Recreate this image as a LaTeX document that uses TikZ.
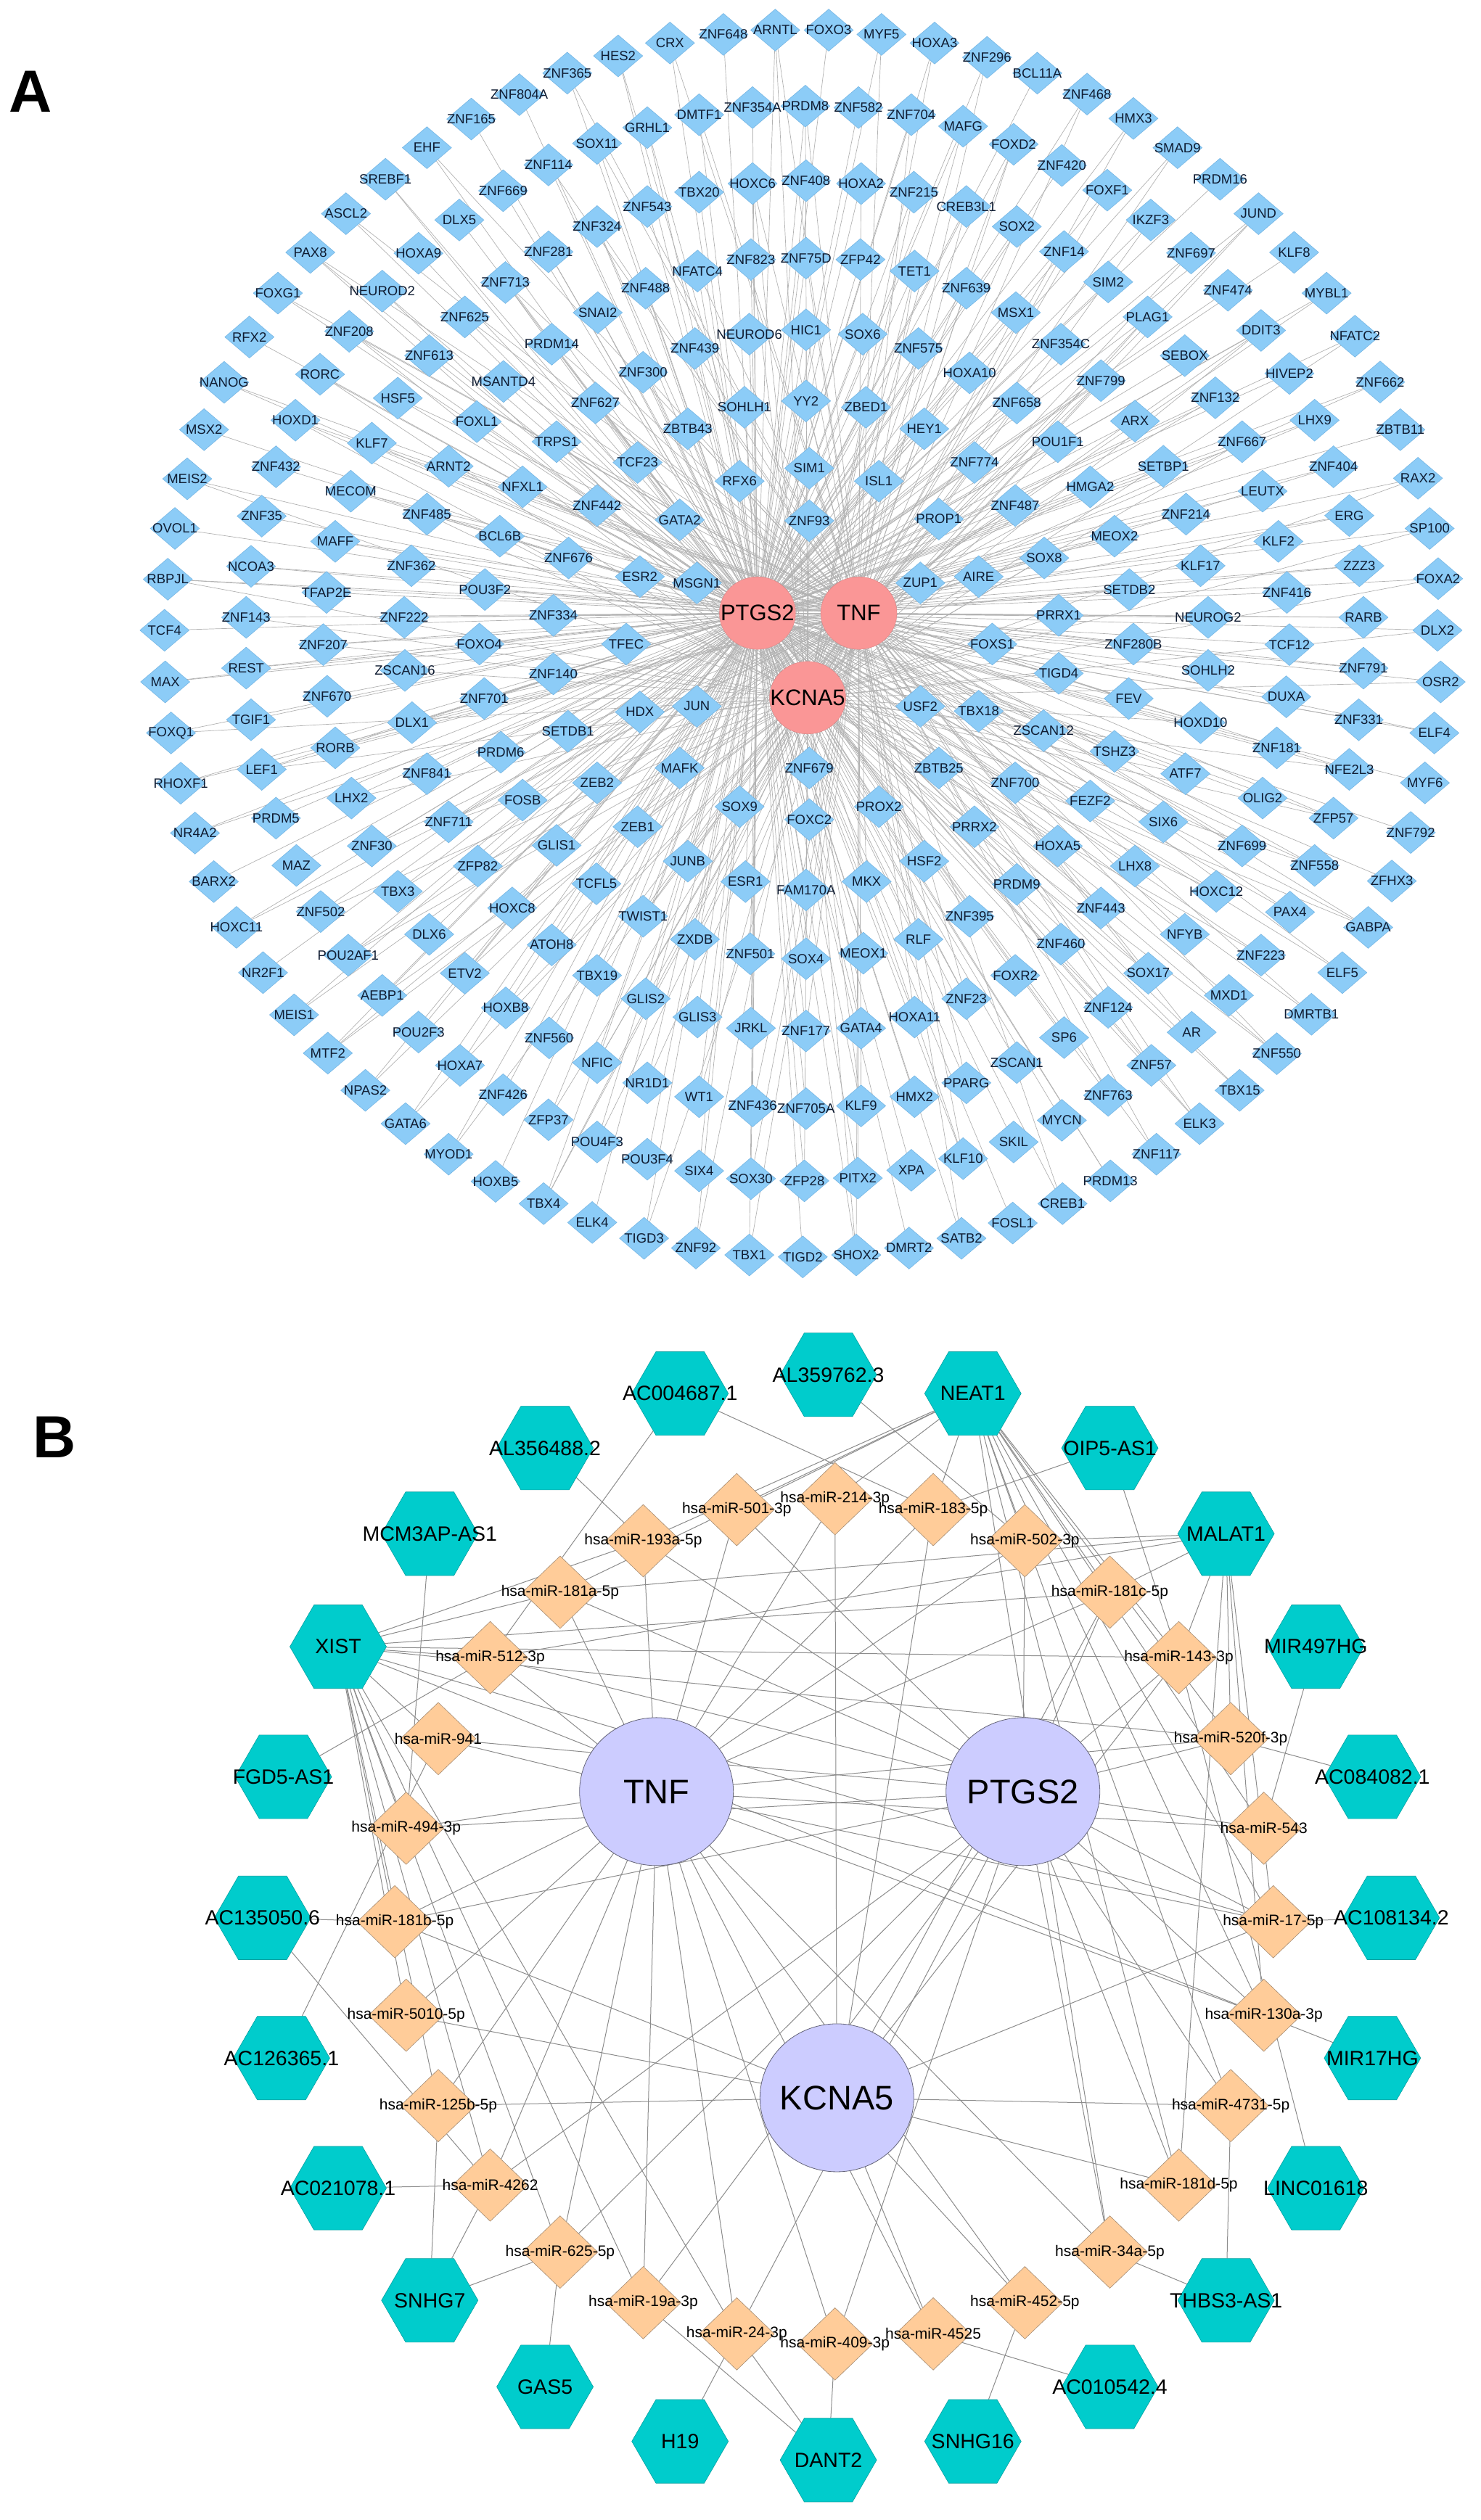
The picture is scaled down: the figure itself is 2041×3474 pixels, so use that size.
\documentclass[tikz,border=0pt]{standalone}
\usepackage{fontspec}
\setmainfont{Liberation Sans}
\usetikzlibrary{shapes.geometric}
\pgfdeclarelayer{bg}
\pgfdeclarelayer{edges}
\pgfsetlayers{bg,edges,main}
\definecolor{diaFill}{RGB}{140,204,247}
\definecolor{diaLine}{RGB}{118,182,228}
\definecolor{labCol}{RGB}{15,28,50}
\definecolor{hubAFill}{RGB}{250,150,150}
\definecolor{edgeACol}{RGB}{178,178,178}
\definecolor{hexFill}{RGB}{0,204,204}
\definecolor{hexLine}{RGB}{0,160,160}
\definecolor{miFill}{RGB}{255,204,153}
\definecolor{miLine}{RGB}{165,140,115}
\definecolor{hubBFill}{RGB}{204,204,255}
\definecolor{hubBLine}{RGB}{100,100,120}
\definecolor{edgeBCol}{RGB}{140,140,140}
\tikzset{
  diaA/.style={diamond, draw=diaLine, line width=0.6pt, fill=diaFill, minimum width=68pt, minimum height=58pt, inner sep=0pt},
  labA/.style={font=\fontsize{18.5}{20}\selectfont, text=labCol, inner sep=0pt},
  hubA/.style={ellipse, fill=hubAFill, draw=hubAFill!85!black, line width=0.4pt, minimum width=105pt, minimum height=100pt, inner sep=0pt},
  labHubA/.style={font=\fontsize{31}{33}\selectfont, text=black, inner sep=0pt},
  edgeA/.style={draw=edgeACol, line width=0.7pt},
  hexB/.style={regular polygon, regular polygon sides=6, minimum size=133pt, inner sep=0pt, fill=hexFill, draw=hexLine, line width=0.6pt},
  labHex/.style={font=\fontsize{28.5}{30}\selectfont, text=black, inner sep=0pt},
  miB/.style={diamond, minimum width=104pt, minimum height=100pt, inner sep=0pt, fill=miFill, draw=miLine, line width=0.6pt},
  labMi/.style={font=\fontsize{21}{22}\selectfont, text=black, inner sep=0pt},
  hubB/.style={ellipse, minimum width=212pt, minimum height=204pt, inner sep=0pt, fill=hubBFill, draw=hubBLine, line width=0.8pt},
  labHubB/.style={font=\fontsize{47}{49}\selectfont, text=black, inner sep=0pt},
  edgeB/.style={draw=edgeBCol, line width=1pt},
  panlab/.style={font=\fontsize{82}{82}\selectfont\bfseries, inner sep=0pt}
}
\newcommand{\tfListA}{ZNF165/1455/415, EHF/1318/515, SREBF1/1190/625, ASCL2/1068/745, DLX5/1418/767, PAX8/958/880, HOXA9/1292/883, FOXG1/858/1022, NEUROD2/1180/1015, ZNF625/1435/1105, RFX2/770/1175, ZNF208/1078/1155, ZNF613/1325/1240, NANOG/692/1333, RORC/988/1305, HSF5/1228/1388, MSX2/630/1498, HOXD1/912/1465, FOXL1/1472/1470, KLF7/1148/1545}
\newcommand{\tfListB}{ZNF804A/80/330, ZNF365/228/255, HES2/385/195, CRX/545/150, ZNF648/710/120, ARNTL/870/105, FOXO3/1035/105, MYF5/1198/120, HOXA3/1362/150, ZNF296/1524/200, ZNF669/30/665, ZNF713/37/985, MSANTD4/31/1330, SOX11/320/500, GRHL1/475/445, DMTF1/635/400, ZNF354A/800/375, PRDM8/963/370, ZNF582/1127/375, ZNF704/1290/400, MAFG/1450/440, ZNF114/170/575, TBX20/635/670, HOXC6/800/640, ZNF408/965/630, HOXA2/1135/640, ZNF215/1298/670, CREB3L1/1460/720, ZNF543/475/720, ZNF324/320/790, ZNF281/170/878, NFATC4/630/945, ZNF823/795/905, ZNF75D/965/900, ZFP42/1133/905, TET1/1300/945, ZNF488/470/1005, ZNF639/1460/1005, SNAI2/322/1090, PRDM14/180/1200, NEUROD6/790/1165, HIC1/965/1150, SOX6/1140/1165, ZNF439/622/1215, ZNF575/1312/1215, ZNF300/462/1298, HOXA10/1470/1300, ZNF627/315/1405, SOHLH1/775/1420, YY2/965/1398, ZBED1/1150/1420, ZBTB43/600/1495, HEY1/1330/1495, TRPS1/195/1540}
\newcommand{\tfListC}{BCL11A/160/255, ZNF468/318/328, HMX3/465/413, SMAD9/605/515, PRDM16/740/625, JUND/862/745, KLF8/975/880, MYBL1/1078/1022, NFATC2/1168/1172, ZNF662/1248/1332, ZBTB11/1312/1498, FOXD2/85/503, ZNF420/238/577, FOXF1/382/663, IKZF3/520/767, ZNF697/648/882, ZNF474/765/1012, DDIT3/870/1152, HIVEP2/960/1302, LHX9/1040/1465, SOX2/95/790, ZNF14/245/877, SIM2/385/983, PLAG1/510/1105, SEBOX/628/1240, ZNF132/725/1387, ZNF667/810/1540, MSX1/92/1090, ZNF354C/235/1200, ZNF799/362/1327, ARX/470/1468, ZNF658/95/1405, POU1F1/225/1540}
\newcommand{\tfListD}{ZNF432/852/110, ARNT2/1385/108, MEIS2/578/152, MECOM/1083/195, ZNF35/808/282, ZNF485/1318/275, OVOL1/540/325, MAFF/1035/370, BCL6B/1543/352, NCOA3/775/457, ZNF362/1270/455, RBPJL/518/502, TFAP2E/1008/548, POU3F2/1497/538, ZNF143/760/635, ZNF222/1248/635, TCF4/508/680, ZNF207/998/730, FOXO4/1480/728, REST/760/812, ZSCAN16/1250/820, MAX/510/860, ZNF670/1010/910, ZNF701/1495/918, TGIF1/775/992, DLX1/1272/1002, FOXQ1/528/1038, RORB/1035/1090, PRDM6/1546/1105, LEF1/808/1165, ZNF841/1318/1180, RHOXF1/558/1213, LHX2/1085/1265, NR4A2/602/1387, PRDM5/852/1335, ZNF711/1385/1348, MAZ/915/1500, ZNF30/1148/1432, ZFP82/1475/1502}
\newcommand{\tfListE}{TCF23/445/95, SIM1/975/115, ZNF774/1485/95, NFXL1/90/180, RFX6/760/160, ISL1/1190/160, ZNF442/320/245, GATA2/575/295, ZNF93/975/298, PROP1/1375/292, ZNF676/232/428, ESR2/452/493, MSGN1/628/515, ZUP1/1318/515, AIRE/1498/493, ZNF334/185/628, TFEC/410/728, FOXS1/1540/728, ZNF140/185/832, HDX/452/965, JUN/628/945, USF2/1318/945, TBX18/1498/962, SETDB1/230/1032, MAFK/575/1160, ZNF679/975/1160, ZBTB25/1375/1160, ZEB2/320/1212, FOSB/90/1272, SOX9/760/1295, PROX2/1190/1295, FOXC2/975/1340, ZEB1/445/1365, PRRX2/1485/1365, GLIS1/195/1430, JUNB/600/1485, HSF2/1330/1485}
\newcommand{\tfListF}{SETBP1/560/108, ZNF404/1100/110, RAX2/1368/150, HMGA2/328/180, LEUTX/875/195, ZNF487/90/245, ZNF214/632/275, ERG/1150/280, SP100/1405/325, MEOX2/405/352, KLF2/925/370, SOX8/182/428, KLF17/678/455, ZZZ3/1182/455, FOXA2/1432/500, SETDB2/452/538, ZNF416/952/548, PRRX1/228/628, NEUROG2/702/635, RARB/1195/635, DLX2/1430/680, ZNF280B/465/728, TCF12/960/730, TIGD4/228/830, SOHLH2/702/820, ZNF791/1195/812, OSR2/1440/860, FEV/450/918, DUXA/950/912, HOXD10/678/1002, ZNF331/1180/992, ELF4/1420/1038, ZSCAN12/180/1030, TSHZ3/405/1102, ZNF181/920/1090, NFE2L3/1150/1165, MYF6/1390/1212, ZNF700/90/1212, ATF7/630/1180, FEZF2/328/1275, OLIG2/875/1265, ZFP57/1100/1335, ZNF792/1345/1385, SIX6/560/1348, HOXA5/225/1432, ZNF699/810/1432, LHX8/470/1502, ZNF558/1040/1500}
\newcommand{\tfListG}{BARX2/660/40, TBX3/1228/75, ZNF502/990/148, HOXC11/730/205, DLX6/1325/230, POU2AF1/1075/305, NR2F1/812/368, ETV2/1435/370, AEBP1/1180/450, MEIS1/908/520, POU2F3/1292/582, MTF2/1012/658, HOXA7/1420/702, NPAS2/1128/792, GATA6/1252/912, MYOD1/1385/1022, HOXB5/1530/1120}
\newcommand{\tfListH}{TCFL5/318/48, ESR1/778/40, FAM170A/965/70, MKX/1152/40, HOXC8/58/135, TWIST1/462/165, ZNF395/1470/165, ATOH8/180/268, ZXDB/622/248, RLF/1312/248, ZNF501/793/300, SOX4/965/318, MEOX1/1142/298, TBX19/320/378, HOXB8/38/495, GLIS2/470/462, GLIS3/630/528, ZNF23/1460/462, JRKL/795/568, ZNF177/965/578, GATA4/1135/568, HOXA11/1300/528, ZNF560/172/603, NFIC/320/692, ZNF426/30/808, NR1D1/475/765, WT1/635/815, ZNF436/800/848, ZNF705A/965/858, KLF9/1135/848, HMX2/1300/815, PPARG/1460/765, ZFP37/170/898, POU4F3/320/978, POU3F4/475/1040, KLF10/1450/1038, SIX4/635/1082, SOX30/795/1110, ZFP28/960/1118, PITX2/1125/1108, XPA/1290/1080, TBX4/155/1200, ELK4/305/1268, TIGD3/465/1325, ZNF92/625/1360, TBX1/790/1385, TIGD2/955/1392, SHOX2/1120/1385, DMRT2/1283/1360, SATB2/1445/1325}
\newcommand{\tfListI}{PRDM9/95/50, ZNF443/362/135, HOXC12/728/75, PAX4/962/150, ZFHX3/1285/38, GABPA/1210/205, ZNF460/235/265, NFYB/628/230, ZNF223/870/305, ELF5/1128/368, FOXR2/90/378, SOX17/512/370, MXD1/768/450, DMRTB1/1030/518, ZNF124/385/493, AR/650/583, SP6/245/602, ZNF550/920/660, ZSCAN1/95/692, ZNF57/522/702, TBX15/802/792, ZNF763/385/810, MYCN/238/900, ELK3/675/912, SKIL/85/978, ZNF117/538/1022, PRDM13/392/1118, CREB1/240/1200, FOSL1/82/1270}
\newcommand{\tfPlace}[1]{%
  \foreach \n/\a/\b in #1 {\node[diaA, label={[labA]center:\n}] (\n) at (\a,\b) {};}%
}
\newcommand{\tfLink}[1]{%
  \foreach \n/\a/\b [count=\i] in #1 {%
    \draw[edgeA] (\n) -- (PTGS2);
    \pgfmathtruncatemacro{\tfmodA}{mod(\i,2)}%
    \ifnum\tfmodA=0 \draw[edgeA] (\n) -- (TNF);\fi
    \pgfmathtruncatemacro{\tfmodB}{mod(\i,3)}%
    \ifnum\tfmodB=0 \draw[edgeA] (\n) -- (KCNA5);\fi
  }%
}
\begin{document}
\begin{tikzpicture}[x=1pt, y=-1pt]
\useasboundingbox (0,0) rectangle (2041,3474);
\begin{pgfonlayer}{bg}
\fill[white] (0,0) rectangle (2041,3474);
\end{pgfonlayer}

% ---------------- Panel A ----------------
\node[panlab] (labelA) at (42,126) {A};

\begin{scope}[shift={(680pt,-600pt)}, x=0.4464pt, y=-0.3954pt]
\node[hubA, label={[labHubA]center:PTGS2}] (PTGS2) at (815,620) {};
\node[hubA, label={[labHubA]center:TNF}] (TNF) at (1128,620) {};
\node[hubA, label={[labHubA]center:KCNA5}] (KCNA5) at (970,915) {};
\end{scope}

\begin{scope}[shift={(0pt,0pt)}, x=0.4464pt, y=-0.3954pt]\tfPlace{\tfListA}\end{scope}
\begin{scope}[shift={(680pt,0pt)}, x=0.4464pt, y=-0.3954pt]\tfPlace{\tfListB}\end{scope}
\begin{scope}[shift={(1360pt,0pt)}, x=0.4343pt, y=-0.3954pt]\tfPlace{\tfListC}\end{scope}
\begin{scope}[shift={(0pt,-600pt)}, x=0.4464pt, y=-0.3954pt]\tfPlace{\tfListD}\end{scope}
\begin{scope}[shift={(680pt,-600pt)}, x=0.4464pt, y=-0.3954pt]\tfPlace{\tfListE}\end{scope}
\begin{scope}[shift={(1360pt,-600pt)}, x=0.4343pt, y=-0.3954pt]\tfPlace{\tfListF}\end{scope}
\begin{scope}[shift={(0pt,-1200pt)}, x=0.4464pt, y=-0.3827pt]\tfPlace{\tfListG}\end{scope}
\begin{scope}[shift={(680pt,-1200pt)}, x=0.4464pt, y=-0.3827pt]\tfPlace{\tfListH}\end{scope}
\begin{scope}[shift={(1360pt,-1200pt)}, x=0.4343pt, y=-0.3827pt]\tfPlace{\tfListI}\end{scope}

% ---------------- Panel B ----------------
\node[panlab] (labelB) at (75,1981) {B};

\begin{scope}[shift={(0pt,-1790pt)}, x=1.3017pt, y=-1.074pt]
\node[hubB, label={[labHubB]center:TNF}] (bTNF) at (695,633) {};
\node[hubB, label={[labHubB]center:PTGS2}] (bPTGS2) at (1083,633) {};
\node[hubB, label={[labHubB]center:KCNA5}] (bKCNA5) at (886,1026) {};

\foreach \n/\a/\b/\t in {AC0046871/720/122/AC004687.1, AL3597623/877/98/AL359762.3, NEAT1/1030/122/NEAT1, AL3564882/577/192/AL356488.2, OIP5AS1/1175/192/OIP5-AS1, MCM3APAS1/455/302/MCM3AP-AS1, MALAT1/1298/302/MALAT1, XIST/358/447/XIST, MIR497HG/1393/447/MIR497HG, FGD5AS1/300/614/FGD5-AS1, AC0840821/1453/614/AC084082.1, AC1350506/278/795/AC135050.6, AC1081342/1473/795/AC108134.2, AC1263651/298/975/AC126365.1, MIR17HG/1453/975/MIR17HG, AC0210781/358/1142/AC021078.1, LINC01618/1393/1142/LINC01618, SNHG7/455/1286/SNHG7, THBS3AS1/1298/1286/THBS3-AS1, GAS5/577/1397/GAS5, AC0105424/1175/1397/AC010542.4, H19/720/1467/H19, SNHG16/1030/1467/SNHG16, DANT2/877/1491/DANT2}
  \node[hexB, label={[labHex]center:\t}] (\n) at (\a,\b) {};

\foreach \n/\a/\b/\t in {m214/884/257/hsa-miR-214-3p, m501/780/271/hsa-miR-501-3p, m183/988/271/hsa-miR-183-5p, m193a/681/311/hsa-miR-193a-5p, m502/1085/311/hsa-miR-502-3p, m181a/593/377/hsa-miR-181a-5p, m181c/1175/377/hsa-miR-181c-5p, m512/519/461/hsa-miR-512-3p, m143/1248/461/hsa-miR-143-3p, m941/464/565/hsa-miR-941, m520f/1303/565/hsa-miR-520f-3p, m494/430/680/hsa-miR-494-3p, m543/1338/680/hsa-miR-543, m181b/418/800/hsa-miR-181b-5p, m17/1348/800/hsa-miR-17-5p, m5010/430/920/hsa-miR-5010-5p, m130a/1338/920/hsa-miR-130a-3p, m125b/464/1036/hsa-miR-125b-5p, m4731/1303/1036/hsa-miR-4731-5p, m4262/519/1138/hsa-miR-4262, m181d/1248/1138/hsa-miR-181d-5p, m625/593/1224/hsa-miR-625-5p, m34a/1175/1224/hsa-miR-34a-5p, m19a/681/1289/hsa-miR-19a-3p, m452/1085/1289/hsa-miR-452-5p, m24/780/1329/hsa-miR-24-3p, m4525/988/1329/hsa-miR-4525, m409/884/1342/hsa-miR-409-3p}
  \node[miB, label={[labMi]center:\t}] (\n) at (\a,\b) {};
\end{scope}

\begin{pgfonlayer}{edges}
\tfLink{\tfListA}\tfLink{\tfListB}\tfLink{\tfListC}
\tfLink{\tfListD}\tfLink{\tfListE}\tfLink{\tfListF}
\tfLink{\tfListG}\tfLink{\tfListH}\tfLink{\tfListI}
\foreach \u/\v in {m214/bTNF, m214/bKCNA5, m501/bTNF, m501/bPTGS2, m183/bTNF, m183/bKCNA5, m193a/bTNF, m193a/bPTGS2, m502/bTNF, m502/bPTGS2, m181a/bTNF, m181a/bPTGS2, m181c/bTNF, m181c/bPTGS2, m181c/bKCNA5, m512/bTNF, m512/bPTGS2, m143/bPTGS2, m143/bKCNA5, m941/bTNF, m941/bPTGS2, m520f/bTNF, m520f/bPTGS2, m494/bTNF, m494/bPTGS2, m543/bTNF, m543/bPTGS2, m181b/bTNF, m181b/bPTGS2, m181b/bKCNA5, m17/bTNF, m17/bPTGS2, m17/bKCNA5, m5010/bTNF, m5010/bKCNA5, m130a/bTNF, m130a/bPTGS2, m125b/bTNF, m125b/bKCNA5, m4731/bKCNA5, m4731/bPTGS2, m4262/bTNF, m4262/bPTGS2, m181d/bPTGS2, m181d/bKCNA5, m625/bTNF, m625/bPTGS2, m34a/bTNF, m34a/bPTGS2, m19a/bTNF, m19a/bPTGS2, m452/bTNF, m452/bKCNA5, m24/bTNF, m24/bPTGS2, m4525/bTNF, m4525/bKCNA5, m409/bTNF, m409/bPTGS2,
XIST/m181a, XIST/m193a, XIST/m512, XIST/m181c, XIST/m941, XIST/m494, XIST/m181b, XIST/m5010, XIST/m125b, XIST/m4262, XIST/m625, XIST/m19a, XIST/m24, XIST/m143, XIST/m520f, XIST/m17, XIST/m130a,
NEAT1/m501, NEAT1/m214, NEAT1/m193a, NEAT1/m183, NEAT1/m502, NEAT1/m181c, NEAT1/m143, NEAT1/m520f, NEAT1/m543, NEAT1/m17, NEAT1/m130a, NEAT1/m34a, NEAT1/m181d, NEAT1/m181a, NEAT1/m4731,
MALAT1/m181c, MALAT1/m143, MALAT1/m520f, MALAT1/m17, MALAT1/m512, MALAT1/m181a, MALAT1/m502, MALAT1/m181d, MALAT1/m130a,
AC0046871/m512, AC0046871/m183, AL3597623/m502, AL3564882/m193a, MCM3APAS1/m494, OIP5AS1/m183, OIP5AS1/m143, MIR497HG/m543, AC0840821/m520f, AC1081342/m17, MIR17HG/m130a, LINC01618/m143, THBS3AS1/m34a, THBS3AS1/m4731, AC0105424/m4525, SNHG16/m452, DANT2/m24, DANT2/m409, DANT2/m19a, H19/m24, GAS5/m625, SNHG7/m625, SNHG7/m4262, SNHG7/m125b, AC0210781/m4262, AC1263651/m941, AC1350506/m181b, AC1350506/m4262, FGD5AS1/m512}
  \draw[edgeB] (\u) -- (\v);
\end{pgfonlayer}
\end{tikzpicture}
\end{document}
